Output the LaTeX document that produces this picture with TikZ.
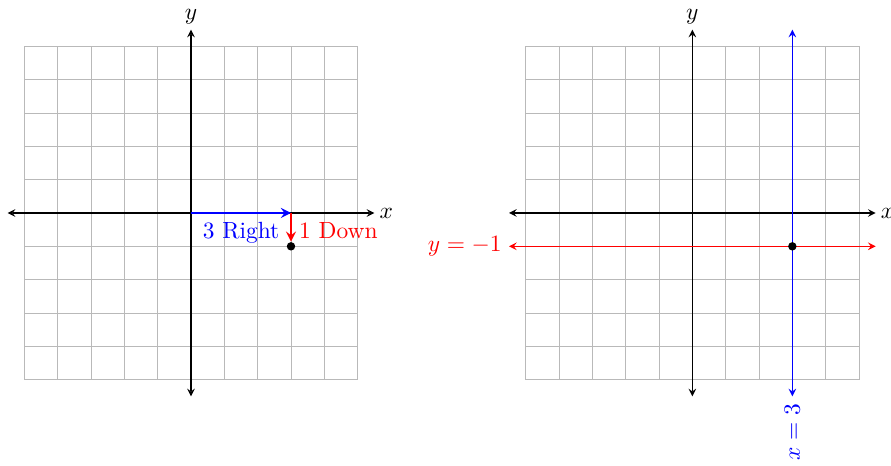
\documentclass[tikz,border=0pt]{standalone}
\usetikzlibrary{arrows.meta}
\begin{document}
\begin{tikzpicture}[x=0.5cm,y=0.5cm,>=stealth,
  gridline/.style={gray!55,line width=0.4pt},
  axis/.style={<->,black,line width=0.45pt},
  dot/.style={circle,fill=black,inner sep=0pt,minimum size=3.6pt}]
\useasboundingbox (-5.73,-7.59) rectangle (21.0,6.39);
% left panel
\draw[gridline,step=0.5cm] (-5,-5) grid (5,5);
\coordinate (lxl) at (-5.5,0);
\coordinate (lxr) at (5.5,0);
\coordinate (lyb) at (0,-5.5);
\coordinate (lyt) at (0,5.5);
\draw[axis] (lxl) -- (lxr) node[right,inner sep=2pt] (lxlab) {$x$};
\draw[axis] (lyb) -- (lyt) node[above,inner sep=2pt] (lylab) {$y$};
\coordinate (lo) at (0,0);
\coordinate (lc) at (3,0);
\node[dot] (lp) at (3,-1) {};
\draw[->,blue,line width=0.9pt] (lo) -- (lc) node[midway,below,text=blue] (lr) {3 Right};
\draw[->,red,line width=0.9pt] (lc) -- (lp.north) node[pos=0.6,right,text=red,inner sep=3pt] (ld) {1 Down};
% right panel
\begin{scope}[xshift=7.52cm]
\draw[gridline,step=0.5cm] (-5,-5) grid (5,5);
\coordinate (rxl) at (-5.5,0);
\coordinate (rxr) at (5.5,0);
\coordinate (ryb) at (0,-5.5);
\coordinate (ryt) at (0,5.5);
\draw[axis] (rxl) -- (rxr) node[right,inner sep=2pt] (rxlab) {$x$};
\draw[axis] (ryb) -- (ryt) node[above,inner sep=2pt] (rylab) {$y$};
\coordinate (hl) at (-5.5,-1);
\coordinate (hr) at (5.5,-1);
\coordinate (vb) at (3,-5.5);
\coordinate (vt) at (3,5.5);
\draw[<->,red,line width=0.45pt] (hl) -- (hr);
\draw[<->,blue,line width=0.45pt] (vb) -- (vt);
\node[left,text=red,inner sep=3pt] (hlab) at (hl) {$y=-1$};
\node[rotate=90,anchor=east,text=blue,inner sep=3pt] (vlab) at (vb) {$x=3$};
\node[dot] (rp) at (3,-1) {};
\end{scope}
\end{tikzpicture}
\end{document}
